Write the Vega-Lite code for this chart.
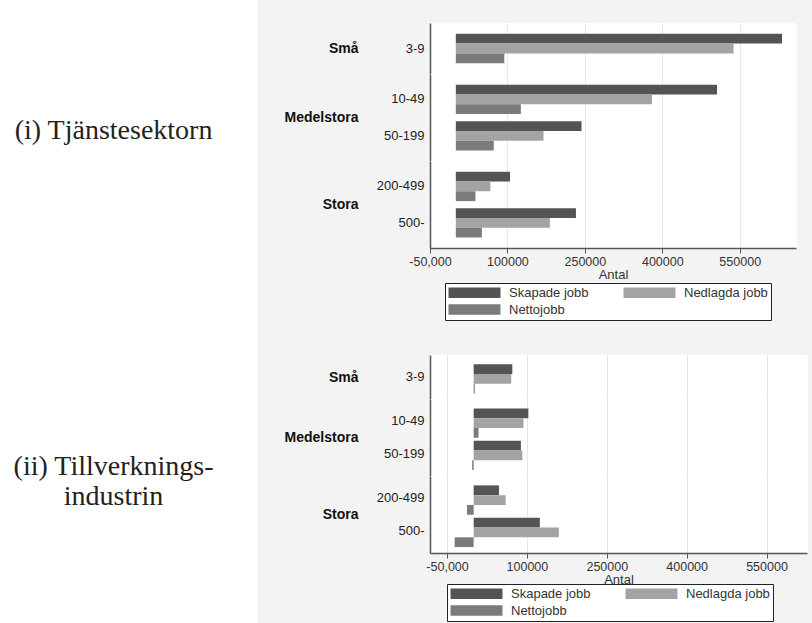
{
  "$schema": "https://vega.github.io/schema/vega-lite/v6.json",
  "padding": 0,
  "background": "#f3f3f3",
  "config": {
    "font": "Liberation Sans",
    "view": {"stroke": null, "fill": "white"}
  },
  "datasets": {
    "etiketter": [
      {"etikett": "(i) Tjänstesektorn"},
      {"etikett": "(ii) Tillverknings-\nindustrin"}
    ],
    "tjanst": [
      {"storlek": "Små", "klass": "3-9", "serie": "Skapade jobb", "antal": 632000},
      {"storlek": "Små", "klass": "3-9", "serie": "Nedlagda jobb", "antal": 538000},
      {"storlek": "Små", "klass": "3-9", "serie": "Nettojobb", "antal": 94000},
      {"storlek": "Medelstora", "klass": "10-49", "serie": "Skapade jobb", "antal": 506000},
      {"storlek": "Medelstora", "klass": "10-49", "serie": "Nedlagda jobb", "antal": 380000},
      {"storlek": "Medelstora", "klass": "10-49", "serie": "Nettojobb", "antal": 126000},
      {"storlek": "Medelstora", "klass": "50-199", "serie": "Skapade jobb", "antal": 243500},
      {"storlek": "Medelstora", "klass": "50-199", "serie": "Nedlagda jobb", "antal": 170000},
      {"storlek": "Medelstora", "klass": "50-199", "serie": "Nettojobb", "antal": 73500},
      {"storlek": "Stora", "klass": "200-499", "serie": "Skapade jobb", "antal": 105000},
      {"storlek": "Stora", "klass": "200-499", "serie": "Nedlagda jobb", "antal": 67000},
      {"storlek": "Stora", "klass": "200-499", "serie": "Nettojobb", "antal": 38000},
      {"storlek": "Stora", "klass": "500-", "serie": "Skapade jobb", "antal": 232700},
      {"storlek": "Stora", "klass": "500-", "serie": "Nedlagda jobb", "antal": 182200},
      {"storlek": "Stora", "klass": "500-", "serie": "Nettojobb", "antal": 50500}
    ],
    "tillv": [
      {"storlek": "Små", "klass": "3-9", "serie": "Skapade jobb", "antal": 72600},
      {"storlek": "Små", "klass": "3-9", "serie": "Nedlagda jobb", "antal": 70500},
      {"storlek": "Små", "klass": "3-9", "serie": "Nettojobb", "antal": 2100},
      {"storlek": "Medelstora", "klass": "10-49", "serie": "Skapade jobb", "antal": 102700},
      {"storlek": "Medelstora", "klass": "10-49", "serie": "Nedlagda jobb", "antal": 93600},
      {"storlek": "Medelstora", "klass": "10-49", "serie": "Nettojobb", "antal": 9100},
      {"storlek": "Medelstora", "klass": "50-199", "serie": "Skapade jobb", "antal": 88700},
      {"storlek": "Medelstora", "klass": "50-199", "serie": "Nedlagda jobb", "antal": 91500},
      {"storlek": "Medelstora", "klass": "50-199", "serie": "Nettojobb", "antal": -2800},
      {"storlek": "Stora", "klass": "200-499", "serie": "Skapade jobb", "antal": 47500},
      {"storlek": "Stora", "klass": "200-499", "serie": "Nedlagda jobb", "antal": 60100},
      {"storlek": "Stora", "klass": "200-499", "serie": "Nettojobb", "antal": -12600},
      {"storlek": "Stora", "klass": "500-", "serie": "Skapade jobb", "antal": 124300},
      {"storlek": "Stora", "klass": "500-", "serie": "Nedlagda jobb", "antal": 160000},
      {"storlek": "Stora", "klass": "500-", "serie": "Nettojobb", "antal": -35700}
    ]
  },
  "spacing": 25,
  "resolve": {"scale": {"color": "independent"}, "legend": {"color": "independent"}},
  "hconcat": [
    {
      "width": 258,
      "height": 623,
      "data": {"name": "etiketter"},
      "mark": {"type": "text", "font": "Liberation Serif", "fontSize": 28, "color": "#222", "lineBreak": "\n", "lineHeight": 30, "align": "center", "baseline": "middle"},
      "encoding": {
        "text": {"field": "etikett"},
        "y": {"field": "etikett", "type": "nominal", "sort": null, "scale": {"type": "band", "paddingInner": 0.5, "paddingOuter": 0.177, "align": 0.395}, "axis": null},
        "x": {"datum": 0.44, "type": "quantitative", "scale": {"domain": [0, 1]}, "axis": null}
      }
    },
    {
      "spacing": 13,
      "resolve": {"scale": {"color": "independent"}, "legend": {"color": "independent"}},
      "vconcat": [
        {"width": 529, "height": 9, "data": {"values": []}, "mark": "rect", "encoding": {}},
        {
          "data": {"name": "tjanst"},
          "bounds": "flush",
          "spacing": 0,
          "resolve": {"scale": {"x": "shared", "color": "independent"}, "axis": {"x": "independent"}, "legend": {"color": "independent"}},
          "vconcat": [
            {
              "transform": [{"filter": "datum.storlek === 'Små'"}],
              "width": 366, "height": 51,
              "view": {"stroke": "white", "strokeWidth": 1},
              "mark": "bar",
              "encoding": {
                "y": {"field": "klass", "type": "nominal", "sort": null, "title": "Små",
                  "scale": {"paddingInner": 0.2, "paddingOuter": 0.295},
                  "axis": {"ticks": false, "labelPadding": 6, "labelFontSize": 13, "labelColor": "#222", "domainColor": "#555", "domainWidth": 1.5,
                    "titleAngle": 0, "titleAlign": "right", "titleBaseline": "middle", "titleX": -72, "titleFontSize": 14, "titleFontWeight": "bold", "titleColor": "#111"}},
                "yOffset": {"field": "serie", "type": "nominal", "sort": ["Skapade jobb", "Nedlagda jobb", "Nettojobb"], "scale": {"paddingInner": 0, "paddingOuter": 0}},
                "x": {"field": "antal", "type": "quantitative", "scale": {"domain": [-50000, 659000], "nice": false},
                  "axis": {"values": [-50000, 100000, 250000, 400000, 550000], "labels": false, "ticks": false, "domain": false, "title": null, "grid": true, "gridColor": "#e6e6e6"}},
                "color": {"field": "serie", "type": "nominal",
                  "scale": {"domain": ["Skapade jobb", "Nedlagda jobb", "Nettojobb"], "range": ["#545454", "#a3a3a3", "#7b7b7b"]}, "legend": null}
              }
            },
            {
              "transform": [{"filter": "datum.storlek === 'Medelstora'"}],
              "width": 366, "height": 87,
              "view": {"stroke": "white", "strokeWidth": 1},
              "mark": "bar",
              "encoding": {
                "y": {"field": "klass", "type": "nominal", "sort": null, "title": "Medelstora",
                  "scale": {"paddingInner": 0.2, "paddingOuter": 0.295},
                  "axis": {"ticks": false, "labelPadding": 6, "labelFontSize": 13, "labelColor": "#222", "domainColor": "#555", "domainWidth": 1.5,
                    "titleAngle": 0, "titleAlign": "right", "titleBaseline": "middle", "titleX": -72, "titleFontSize": 14, "titleFontWeight": "bold", "titleColor": "#111"}},
                "yOffset": {"field": "serie", "type": "nominal", "sort": ["Skapade jobb", "Nedlagda jobb", "Nettojobb"], "scale": {"paddingInner": 0, "paddingOuter": 0}},
                "x": {"field": "antal", "type": "quantitative", "scale": {"domain": [-50000, 659000], "nice": false},
                  "axis": {"values": [-50000, 100000, 250000, 400000, 550000], "labels": false, "ticks": false, "domain": false, "title": null, "grid": true, "gridColor": "#e6e6e6"}},
                "color": {"field": "serie", "type": "nominal",
                  "scale": {"domain": ["Skapade jobb", "Nedlagda jobb", "Nettojobb"], "range": ["#545454", "#a3a3a3", "#7b7b7b"]}, "legend": null}
              }
            },
            {
              "transform": [{"filter": "datum.storlek === 'Stora'"}],
              "width": 366, "height": 87,
              "view": {"stroke": "white", "strokeWidth": 1},
              "mark": "bar",
              "encoding": {
                "y": {"field": "klass", "type": "nominal", "sort": null, "title": "Stora",
                  "scale": {"paddingInner": 0.2, "paddingOuter": 0.295},
                  "axis": {"ticks": false, "labelPadding": 6, "labelFontSize": 13, "labelColor": "#222", "domainColor": "#555", "domainWidth": 1.5,
                    "titleAngle": 0, "titleAlign": "right", "titleBaseline": "middle", "titleX": -72, "titleFontSize": 14, "titleFontWeight": "bold", "titleColor": "#111"}},
                "yOffset": {"field": "serie", "type": "nominal", "sort": ["Skapade jobb", "Nedlagda jobb", "Nettojobb"], "scale": {"paddingInner": 0, "paddingOuter": 0}},
                "x": {"field": "antal", "type": "quantitative", "scale": {"domain": [-50000, 659000], "nice": false},
                  "axis": {"values": [-50000, 100000, 250000, 400000, 550000], "labelExpr": "datum.value === -50000 ? '-50,000' : format(datum.value, 'd')",
                    "title": "Antal", "grid": true, "gridColor": "#e6e6e6", "domainColor": "#555", "domainWidth": 1.5, "tickColor": "#555", "tickSize": 5,
                    "labelFontSize": 12.5, "labelColor": "#333", "labelPadding": 2, "labelFlush": false, "labelOverlap": false,
                    "titleFontSize": 13, "titleFontWeight": "normal", "titleColor": "#333", "titlePadding": 1}},
                "color": {"field": "serie", "type": "nominal",
                  "scale": {"domain": ["Skapade jobb", "Nedlagda jobb", "Nettojobb"], "range": ["#545454", "#a3a3a3", "#7b7b7b"]},
                  "legend": {"title": null, "orient": "none", "legendX": 15, "legendY": 122, "direction": "horizontal", "columns": 2,
                    "symbolType": "M-4.33,-0.87H4.33V0.87H-4.33Z", "symbolSize": 144, "symbolStrokeWidth": 0, "symbolOffset": 20, "labelOffset": 28,
                    "labelFontSize": 13, "labelColor": "#333", "columnPadding": 34, "rowPadding": 3, "padding": 3,
                    "strokeColor": "#222", "fillColor": "white"}}
              }
            }
          ]
        },
        {"width": 529, "height": 7, "data": {"values": []}, "mark": "rect", "encoding": {}},
        {
          "data": {"name": "tillv"},
          "bounds": "flush",
          "spacing": 0,
          "resolve": {"scale": {"x": "shared", "color": "independent"}, "axis": {"x": "independent"}, "legend": {"color": "independent"}},
          "vconcat": [
            {
              "transform": [{"filter": "datum.storlek === 'Små'"}],
              "width": 377, "height": 44,
              "view": {"stroke": "white", "strokeWidth": 1},
              "mark": "bar",
              "encoding": {
                "y": {"field": "klass", "type": "nominal", "sort": null, "title": "Små",
                  "scale": {"paddingInner": 0.2, "paddingOuter": 0.29},
                  "axis": {"ticks": false, "labelPadding": 6, "labelFontSize": 13, "labelColor": "#222", "domainColor": "#555", "domainWidth": 1.5,
                    "titleAngle": 0, "titleAlign": "right", "titleBaseline": "middle", "titleX": -72, "titleFontSize": 14, "titleFontWeight": "bold", "titleColor": "#111"}},
                "yOffset": {"field": "serie", "type": "nominal", "sort": ["Skapade jobb", "Nedlagda jobb", "Nettojobb"], "scale": {"paddingInner": 0, "paddingOuter": 0}},
                "x": {"field": "antal", "type": "quantitative", "scale": {"domain": [-82000, 626000], "nice": false},
                  "axis": {"values": [-50000, 100000, 250000, 400000, 550000], "labels": false, "ticks": false, "domain": false, "title": null, "grid": true, "gridColor": "#e6e6e6"}},
                "color": {"field": "serie", "type": "nominal",
                  "scale": {"domain": ["Skapade jobb", "Nedlagda jobb", "Nettojobb"], "range": ["#545454", "#a3a3a3", "#7b7b7b"]}, "legend": null}
              }
            },
            {
              "transform": [{"filter": "datum.storlek === 'Medelstora'"}],
              "width": 377, "height": 77,
              "view": {"stroke": "white", "strokeWidth": 1},
              "mark": "bar",
              "encoding": {
                "y": {"field": "klass", "type": "nominal", "sort": null, "title": "Medelstora",
                  "scale": {"paddingInner": 0.2, "paddingOuter": 0.29},
                  "axis": {"ticks": false, "labelPadding": 6, "labelFontSize": 13, "labelColor": "#222", "domainColor": "#555", "domainWidth": 1.5,
                    "titleAngle": 0, "titleAlign": "right", "titleBaseline": "middle", "titleX": -72, "titleFontSize": 14, "titleFontWeight": "bold", "titleColor": "#111"}},
                "yOffset": {"field": "serie", "type": "nominal", "sort": ["Skapade jobb", "Nedlagda jobb", "Nettojobb"], "scale": {"paddingInner": 0, "paddingOuter": 0}},
                "x": {"field": "antal", "type": "quantitative", "scale": {"domain": [-82000, 626000], "nice": false},
                  "axis": {"values": [-50000, 100000, 250000, 400000, 550000], "labels": false, "ticks": false, "domain": false, "title": null, "grid": true, "gridColor": "#e6e6e6"}},
                "color": {"field": "serie", "type": "nominal",
                  "scale": {"domain": ["Skapade jobb", "Nedlagda jobb", "Nettojobb"], "range": ["#545454", "#a3a3a3", "#7b7b7b"]}, "legend": null}
              }
            },
            {
              "transform": [{"filter": "datum.storlek === 'Stora'"}],
              "width": 377, "height": 77,
              "view": {"stroke": "white", "strokeWidth": 1},
              "mark": "bar",
              "encoding": {
                "y": {"field": "klass", "type": "nominal", "sort": null, "title": "Stora",
                  "scale": {"paddingInner": 0.2, "paddingOuter": 0.29},
                  "axis": {"ticks": false, "labelPadding": 6, "labelFontSize": 13, "labelColor": "#222", "domainColor": "#555", "domainWidth": 1.5,
                    "titleAngle": 0, "titleAlign": "right", "titleBaseline": "middle", "titleX": -72, "titleFontSize": 14, "titleFontWeight": "bold", "titleColor": "#111"}},
                "yOffset": {"field": "serie", "type": "nominal", "sort": ["Skapade jobb", "Nedlagda jobb", "Nettojobb"], "scale": {"paddingInner": 0, "paddingOuter": 0}},
                "x": {"field": "antal", "type": "quantitative", "scale": {"domain": [-82000, 626000], "nice": false},
                  "axis": {"values": [-50000, 100000, 250000, 400000, 550000], "labelExpr": "datum.value === -50000 ? '-50,000' : format(datum.value, 'd')",
                    "title": "Antal", "grid": true, "gridColor": "#e6e6e6", "domainColor": "#555", "domainWidth": 1.5, "tickColor": "#555", "tickSize": 5,
                    "labelFontSize": 12.5, "labelColor": "#333", "labelPadding": 2, "labelFlush": false, "labelOverlap": false,
                    "titleFontSize": 13, "titleFontWeight": "normal", "titleColor": "#333", "titlePadding": 1}},
                "color": {"field": "serie", "type": "nominal",
                  "scale": {"domain": ["Skapade jobb", "Nedlagda jobb", "Nettojobb"], "range": ["#545454", "#a3a3a3", "#7b7b7b"]},
                  "legend": {"title": null, "orient": "none", "legendX": 17, "legendY": 108, "direction": "horizontal", "columns": 2,
                    "symbolType": "M-4.33,-0.87H4.33V0.87H-4.33Z", "symbolSize": 144, "symbolStrokeWidth": 0, "symbolOffset": 20, "labelOffset": 28,
                    "labelFontSize": 13, "labelColor": "#333", "columnPadding": 34, "rowPadding": 3, "padding": 3,
                    "strokeColor": "#222", "fillColor": "white"}}
              }
            }
          ]
        }
      ]
    }
  ]
}
